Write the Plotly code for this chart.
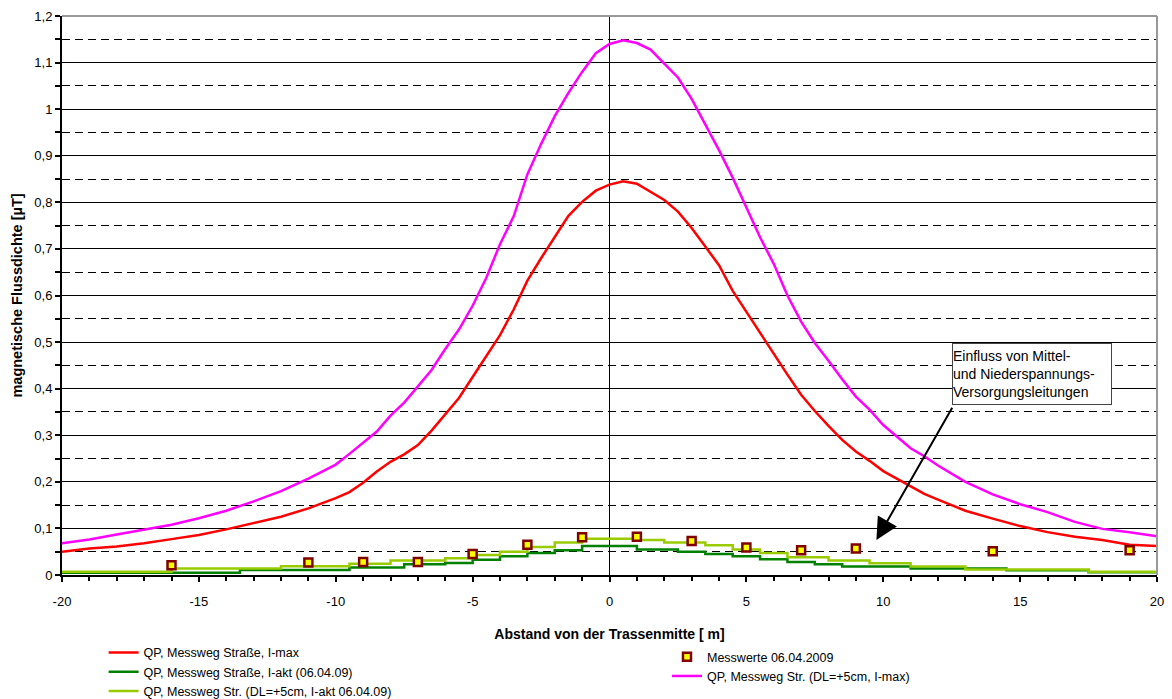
import plotly.graph_objects as go

# ---------------- data ----------------
red_x = [-20, -19, -18, -17, -16, -15, -14, -13, -12, -11, -10, -9.5, -9, -8.5, -8, -7.5, -7, -6.5, -6, -5.5,
         -5, -4.5, -4, -3.5, -3, -2.5, -2, -1.5, -1, -0.5, 0, 0.5, 1, 1.5, 2, 2.5, 3, 3.5, 4, 4.5,
         5, 5.5, 6, 6.5, 7, 7.5, 8, 8.5, 9, 9.5, 10, 10.5, 11, 11.5, 12, 13, 14, 15, 16, 17, 18, 19, 20]
red_y = [0.050, 0.057, 0.061, 0.068, 0.077, 0.086, 0.098, 0.111, 0.125, 0.143, 0.165, 0.178, 0.198, 0.222, 0.243,
         0.259, 0.279, 0.310, 0.345, 0.380, 0.425, 0.470, 0.515, 0.570, 0.632, 0.680, 0.725, 0.771, 0.801, 0.825,
         0.838, 0.845, 0.840, 0.823, 0.805, 0.780, 0.745, 0.705, 0.665, 0.610, 0.565, 0.518, 0.475, 0.430, 0.387,
         0.352, 0.320, 0.290, 0.265, 0.245, 0.223, 0.207, 0.190, 0.174, 0.162, 0.138, 0.121, 0.105, 0.092, 0.082,
         0.075, 0.065, 0.062]

mag_x = red_x
mag_y = [0.068, 0.076, 0.087, 0.097, 0.108, 0.122, 0.138, 0.158, 0.180, 0.207, 0.237, 0.260, 0.284, 0.308, 0.342,
         0.370, 0.405, 0.440, 0.485, 0.527, 0.578, 0.638, 0.710, 0.770, 0.860, 0.925, 0.985, 1.035, 1.080, 1.120,
         1.140, 1.148, 1.142, 1.128, 1.098, 1.068, 1.022, 0.968, 0.912, 0.853, 0.790, 0.725, 0.668, 0.600, 0.544,
         0.498, 0.460, 0.420, 0.383, 0.355, 0.322, 0.296, 0.272, 0.255, 0.235, 0.200, 0.173, 0.152, 0.135, 0.114,
         0.099, 0.092, 0.083]

dg_x = [-20, -13.5, -9.5, -7.5, -6, -5, -4, -3, -2, -1, 1, 2.5, 3.5, 4.5, 5.5, 6.5, 7.5, 8.5, 11, 14.5, 17.5, 20]
dg_y = [0.005, 0.011, 0.016, 0.023, 0.026, 0.033, 0.040, 0.047, 0.053, 0.062, 0.055, 0.050, 0.045, 0.040, 0.034,
        0.028, 0.023, 0.018, 0.014, 0.010, 0.006, 0.006]

lg_x = [-20, -16, -12, -9.5, -8, -6, -5, -4, -3, -2, -1, 1, 2, 3.5, 4.5, 5.5, 6.5, 8, 9.5, 11, 13, 17.5, 20]
lg_y = [0.007, 0.014, 0.019, 0.024, 0.031, 0.036, 0.043, 0.050, 0.060, 0.070, 0.078, 0.075, 0.070, 0.064, 0.055,
        0.047, 0.038, 0.031, 0.025, 0.018, 0.012, 0.007, 0.007]

mw_x = [-16, -11, -9, -7, -5, -3, -1, 1, 3, 5, 7, 9, 14, 19]
mw_y = [0.021, 0.027, 0.028, 0.028, 0.045, 0.065, 0.081, 0.082, 0.073, 0.059, 0.053, 0.057, 0.051, 0.053]

names = ["QP, Messweg Straße, I-max",
         "QP, Messweg Straße, I-akt (06.04.09)",
         "QP, Messweg Str. (DL=+5cm, I-akt 06.04.09)",
         "Messwerte 06.04.2009",
         "QP, Messweg Str. (DL=+5cm, I-max)"]

x_ticks = [-20, -15, -10, -5, 0, 5, 10, 15, 20]
x_tick_labels = ["-20", "-15", "-10", "-5", "0", "5", "10", "15", "20"]
annot_text = "Einfluss von Mittel-<br>und Niederspannungs-<br>Versorgungsleitungen"

# ---------------- figure ----------------
FONT = "Liberation Sans, Arial, sans-serif"
fig = go.Figure()
fig.add_trace(go.Scatter(x=red_x, y=red_y, mode="lines", name=names[0],
                         line=dict(color="#FF0000", width=2.5), legend="legend"))
fig.add_trace(go.Scatter(x=dg_x, y=dg_y, mode="lines", name=names[1], line_shape="hv",
                         line=dict(color="#008000", width=2.5), legend="legend"))
fig.add_trace(go.Scatter(x=lg_x, y=lg_y, mode="lines", name=names[2], line_shape="hv",
                         line=dict(color="#99CC00", width=2.5), legend="legend"))
fig.add_trace(go.Scatter(x=mw_x, y=mw_y, mode="markers", name=names[3],
                         marker=dict(symbol="square", size=8, color="#FFFF00",
                                     line=dict(color="#800000", width=2.5)), legend="legend2"))
fig.add_trace(go.Scatter(x=mag_x, y=mag_y, mode="lines", name=names[4],
                         line=dict(color="#FF00FF", width=2.5), legend="legend2"))

fig.update_layout(
    template="none",
    width=1172, height=699,
    margin=dict(l=62, r=15, t=16, b=124, autoexpand=False),
    paper_bgcolor="white", plot_bgcolor="white",
    separators=",.",
    showlegend=True,
    font=dict(family=FONT, size=13, color="black"),
    legend=dict(x=0.038, y=-0.1124, xanchor="left", yanchor="top", orientation="v",
                font=dict(size=12.5), bgcolor="rgba(0,0,0,0)", itemwidth=30, tracegroupgap=0,
                borderwidth=0),
    legend2=dict(x=0.5525, y=-0.12, xanchor="left", yanchor="top", orientation="v",
                 font=dict(size=12.5), bgcolor="rgba(0,0,0,0)", itemwidth=30, tracegroupgap=0,
                 borderwidth=0),
)

fig.update_xaxes(range=[-20, 20], tickmode="array", tickvals=x_ticks, ticktext=x_tick_labels,
                 automargin=False,
                 showline=True, linecolor="black", linewidth=2,
                 ticks="outside", ticklen=5, tickwidth=1.5, tickcolor="black",
                 minor=dict(dtick=1, ticks="outside", ticklen=4, tickwidth=1.5, tickcolor="black", showgrid=False),
                 showgrid=False, zeroline=True, zerolinecolor="black", zerolinewidth=1,
                 ticklabelstandoff=8, tickfont=dict(size=13),
                 title=dict(text="<b>Abstand von der Trassenmitte [ m]</b>", standoff=22,
                            font=dict(size=14)))
fig.update_yaxes(range=[0, 1.2], dtick=0.1, tick0=0, automargin=False,
                 showline=True, linecolor="black", linewidth=2,
                 ticks="outside", ticklen=5, tickwidth=1.5, tickcolor="black",
                 showgrid=True, gridcolor="black", gridwidth=1, tickfont=dict(size=13),
                 minor=dict(dtick=0.05, ticks="outside", ticklen=5, tickwidth=1.5, tickcolor="black",
                            showgrid=True, gridcolor="black", gridwidth=1, griddash="8px,5px"),
                 zeroline=False,
                 title=dict(text="<b>magnetische Flussdichte [µT]</b>", standoff=8, font=dict(size=14.5)))

# gray top / right frame
fig.add_shape(type="line", xref="paper", yref="paper", x0=0, x1=1, y0=1, y1=1,
              line=dict(color="#999999", width=2))
fig.add_shape(type="line", xref="paper", yref="paper", x0=1, x1=1, y0=0, y1=1,
              line=dict(color="#999999", width=2))

# annotation box
fig.add_annotation(x=12.52, y=0.498, xref="x", yref="y", xanchor="left", yanchor="top",
                   text=annot_text, showarrow=False, align="left",
                   width=158, height=60, valign="middle",
                   bgcolor="white", bordercolor="#444444", borderwidth=1, borderpad=0,
                   font=dict(size=14))
# arrow
fig.add_annotation(x=9.75, y=0.075, xref="x", yref="y", ax=12.55, ay=0.362, axref="x", ayref="y",
                   text="", showarrow=True, arrowhead=2, arrowsize=2.2, arrowwidth=2,
                   arrowcolor="black", standoff=0)

fig.write_html("out.html", config={"displayModeBar": False},
               post_script="document.body.style.margin='0';document.body.style.overflow='hidden';")
